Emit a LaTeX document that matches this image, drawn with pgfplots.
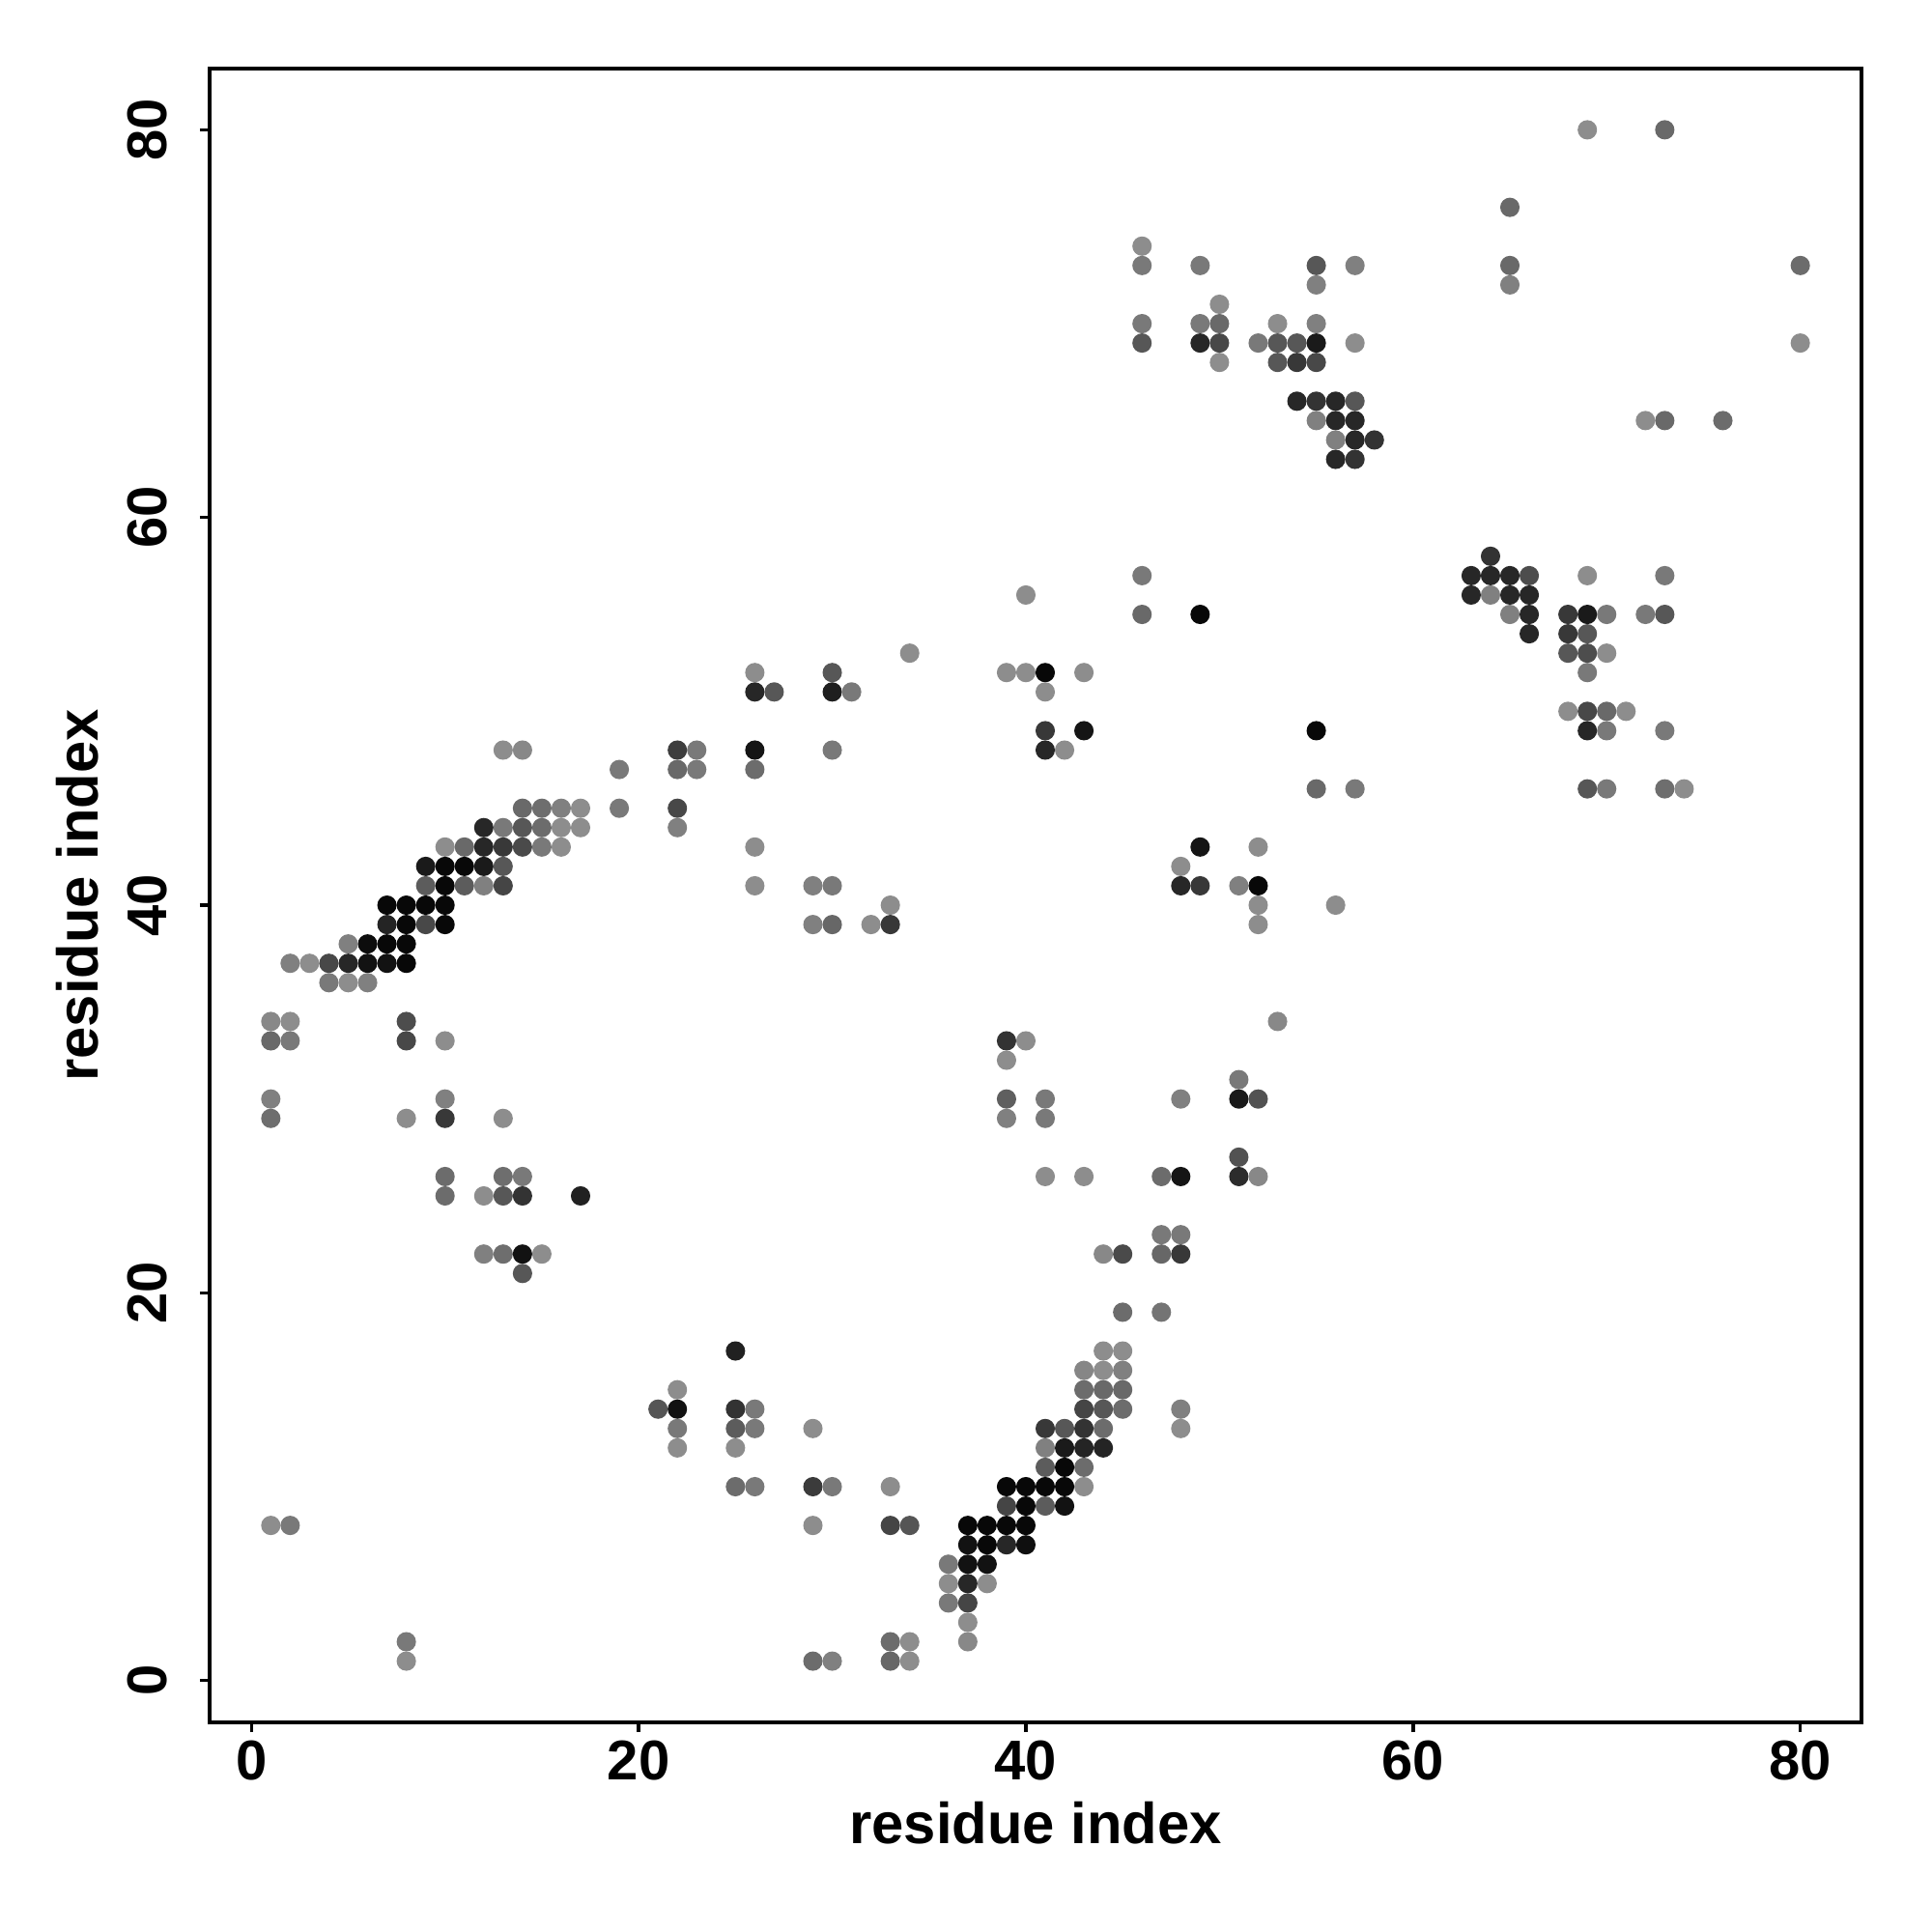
\documentclass[border=0pt]{standalone}
\usepackage{fontspec}
\setmainfont{Liberation Sans}
\usepackage{pgfplots}
\pgfplotsset{compat=1.18}
\pgfplotstableread{
x y c
46 74 0.55
46 73 0.47
49 73 0.47
55 73 0.34
57 73 0.50
55 72 0.50
50 71 0.55
46 70 0.47
49 70 0.47
50 70 0.41
53 70 0.55
55 70 0.50
46 69 0.34
49 69 0.15
50 69 0.28
52 69 0.47
53 69 0.34
54 69 0.34
55 69 0.10
57 69 0.55
50 68 0.55
53 68 0.34
54 68 0.22
55 68 0.28
54 66 0.15
55 66 0.20
56 66 0.15
57 66 0.34
55 65 0.50
56 65 0.15
57 65 0.15
56 64 0.50
57 64 0.15
58 64 0.20
56 63 0.15
57 63 0.20
69 80 0.55
73 80 0.41
65 76 0.41
65 73 0.41
65 72 0.50
80 73 0.42
80 69 0.55
72 65 0.55
73 65 0.41
76 65 0.42
64 58 0.20
63 57 0.15
64 57 0.15
65 57 0.15
66 57 0.30
69 57 0.55
73 57 0.47
63 56 0.15
64 56 0.50
65 56 0.15
66 56 0.15
65 55 0.50
66 55 0.15
68 55 0.22
69 55 0.10
70 55 0.47
72 55 0.47
73 55 0.34
66 54 0.15
68 54 0.22
69 54 0.34
68 53 0.34
69 53 0.30
70 53 0.55
69 52 0.47
68 50 0.55
69 50 0.28
70 50 0.41
71 50 0.55
69 49 0.15
70 49 0.47
73 49 0.47
69 46 0.34
70 46 0.47
73 46 0.43
74 46 0.55
46 57 0.47
40 56 0.55
46 55 0.41
49 55 0.03
39 52 0.55
40 52 0.55
41 52 0.03
43 52 0.55
41 51 0.55
41 49 0.22
43 49 0.08
41 48 0.15
42 48 0.55
55 49 0.03
55 46 0.41
57 46 0.47
49 43 0.08
52 43 0.55
48 42 0.55
48 41 0.15
49 41 0.22
51 41 0.50
52 41 0.03
52 40 0.55
56 40 0.55
52 39 0.55
53 34 0.53
39 33 0.20
40 33 0.55
39 32 0.55
51 31 0.47
39 30 0.37
41 30 0.47
48 30 0.50
51 30 0.10
52 30 0.32
39 29 0.50
41 29 0.47
51 27 0.32
41 26 0.55
43 26 0.55
47 26 0.42
48 26 0.08
51 26 0.17
52 26 0.53
47 23 0.47
48 23 0.47
44 22 0.53
45 22 0.29
47 22 0.40
48 22 0.22
45 19 0.42
47 19 0.45
34 53 0.55
26 52 0.55
30 52 0.34
26 51 0.15
27 51 0.34
30 51 0.12
31 51 0.47
22 48 0.24
23 48 0.47
26 48 0.08
30 48 0.47
22 47 0.41
23 47 0.47
26 47 0.42
22 45 0.28
22 44 0.50
26 43 0.55
26 41 0.55
29 41 0.50
30 41 0.47
33 40 0.55
29 39 0.50
30 39 0.40
32 39 0.55
33 39 0.22
13 48 0.55
14 48 0.53
19 47 0.47
14 45 0.41
15 45 0.43
16 45 0.50
17 45 0.55
19 45 0.47
12 44 0.15
13 44 0.47
14 44 0.34
15 44 0.42
16 44 0.55
17 44 0.55
10 43 0.55
11 43 0.41
12 43 0.15
13 43 0.22
14 43 0.29
15 43 0.47
16 43 0.55
9 42 0.10
10 42 0.03
11 42 0.03
12 42 0.10
13 42 0.34
9 41 0.36
10 41 0.03
11 41 0.36
12 41 0.50
13 41 0.27
7 40 0.03
8 40 0.03
9 40 0.03
10 40 0.03
7 39 0.14
8 39 0.03
9 39 0.28
10 39 0.03
5 38 0.50
6 38 0.05
7 38 0.03
8 38 0.03
2 37 0.50
3 37 0.55
4 37 0.28
5 37 0.15
6 37 0.07
7 37 0.07
8 37 0.03
4 36 0.47
5 36 0.55
6 36 0.50
1 34 0.53
2 34 0.55
8 34 0.30
1 33 0.41
2 33 0.47
8 33 0.28
10 33 0.55
1 30 0.50
10 30 0.50
1 29 0.43
8 29 0.55
10 29 0.22
13 29 0.55
10 26 0.42
13 26 0.43
14 26 0.47
10 25 0.42
12 25 0.55
13 25 0.34
14 25 0.20
17 25 0.13
12 22 0.50
13 22 0.43
14 22 0.07
15 22 0.55
14 21 0.34
1 8 0.55
2 8 0.47
8 2 0.47
8 1 0.55
25 17 0.13
22 15 0.55
21 14 0.33
22 14 0.07
25 14 0.20
26 14 0.47
22 13 0.47
25 13 0.36
26 13 0.47
29 13 0.55
22 12 0.55
25 12 0.55
25 10 0.42
26 10 0.47
29 10 0.23
30 10 0.47
33 10 0.55
29 8 0.55
33 8 0.27
34 8 0.33
37 8 0.03
38 8 0.03
39 8 0.03
40 8 0.03
37 7 0.07
38 7 0.03
39 7 0.15
40 7 0.06
36 6 0.47
37 6 0.07
38 6 0.07
36 5 0.55
37 5 0.15
38 5 0.55
36 4 0.47
37 4 0.27
37 3 0.55
33 2 0.42
34 2 0.55
37 2 0.53
29 1 0.42
30 1 0.50
33 1 0.40
34 1 0.55
39 10 0.03
40 10 0.03
41 10 0.03
42 10 0.03
43 10 0.55
39 9 0.27
40 9 0.03
41 9 0.36
42 9 0.07
41 11 0.36
42 11 0.03
43 11 0.42
41 12 0.50
42 12 0.10
43 12 0.14
44 12 0.14
41 13 0.22
42 13 0.34
43 13 0.20
44 13 0.42
48 13 0.55
43 14 0.27
44 14 0.34
45 14 0.42
48 14 0.50
43 15 0.42
44 15 0.41
45 15 0.41
43 16 0.52
44 16 0.55
45 16 0.50
44 17 0.55
45 17 0.55
}\contacts
\begin{document}
\begin{tikzpicture}
\useasboundingbox (-2.17cm,-2.17cm) rectangle (17.83cm,17.83cm);
\begin{axis}[
  at={(0,0)}, anchor=south west,
  scale only axis, width=17.1cm, height=17.12cm,
  xmin=-2.16, xmax=83.16, ymin=-2.16, ymax=83.16,
  xtick={0,20,40,60,80}, ytick={0,20,40,60,80},
  xtick pos=left, ytick pos=left,
  tick align=outside, major tick length=0.1cm,
  tick style={black, line width=1pt},
  axis line style={black, line width=1.4pt},
  /pgf/number format/assume math mode=true,
  ticklabel style={font=\fontsize{16.5}{19.8}\selectfont\bfseries},
  yticklabel style={rotate=90, anchor=south},
  yticklabel shift=0.22cm,
  xticklabel shift=-0.03cm,
  label style={font=\fontsize{17}{20}\selectfont\bfseries},
  xlabel={residue index}, ylabel={residue index},
  xlabel style={at={(axis description cs:0.5,-0.0736)}, anchor=base},
  ylabel style={at={(axis description cs:-0.0673,0.5)}, anchor=base},
  colormap={greys}{gray(0cm)=(0); gray(1cm)=(1)},
  point meta min=0, point meta max=1,
]
\addplot[scatter, only marks, mark=*, mark size=2.65pt,
  scatter/use mapped color={draw=mapped color, fill=mapped color},
  point meta=explicit] table[meta=c] {\contacts};
\end{axis}
\end{tikzpicture}
\end{document}
